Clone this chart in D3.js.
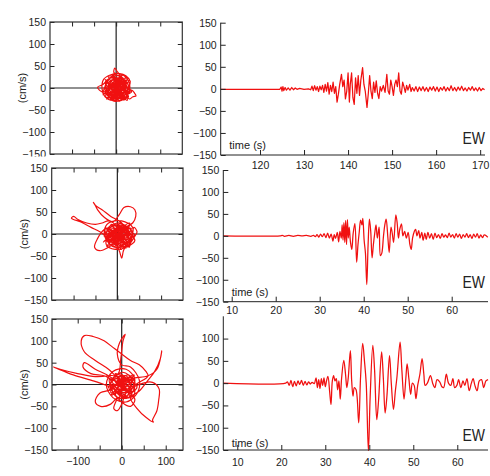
<!DOCTYPE html>
<html><head><meta charset="utf-8">
<script src="https://cdn.jsdelivr.net/npm/d3@7"></script>
<style>
body{margin:0;background:#fff}
text{font-family:"Liberation Sans",Arial,Helvetica,sans-serif;fill:#222}
</style>
</head><body><svg id="c" width="490" height="476"></svg>
<script>
// ---------------- DATA ----------------
// EW velocity traces: [time (s), velocity (cm/s)]
const trace1 = [[111,-1],[124,-1],[124.5,-1],[124.8,4],[125,-5],[125.2,5],[125.4,-4],[125.7,3],[126,-3],[126.4,2],[126.8,-3],[127.2,3],[127.6,-2],[128,2],[128.4,-1],[129,1],[130,-1],[131,0],[131.5,-2],[131.8,6],[132.1,-4],[132.4,7],[132.7,-3],[133,5],[133.3,-6],[133.6,6],[133.9,-2],[134.2,8],[134.5,-8],[134.8,10],[135.1,-5],[135.4,14],[135.7,-12],[136,8],[136.3,-6],[136.6,15],[136.9,-10],[137.2,5],[137.5,-30],[137.8,-12],[138.1,10],[138.5,33],[138.8,5],[139.1,20],[139.4,-23],[139.7,-5],[140,36],[140.3,-30],[140.5,10],[140.8,36],[141.1,-20],[141.4,-35],[141.7,25],[142,-10],[142.3,30],[142.6,-15],[142.9,20],[143.3,48],[143.6,10],[143.9,-5],[144.3,-42],[144.6,-10],[144.9,30],[145.2,-5],[145.5,-22],[145.8,15],[146.1,-8],[146.4,18],[146.7,-10],[147,-22],[147.3,5],[147.6,-5],[148,8],[148.4,-8],[148.8,33],[149.1,-5],[149.4,-12],[149.7,20],[150,5],[150.3,-15],[150.6,10],[150.9,20],[151.2,5],[151.5,36],[151.8,-5],[152.1,-12],[152.4,15],[152.7,5],[153,-8],[153.3,8],[153.6,-3],[154,10],[154.3,-6],[154.6,3],[155,-5],[155.4,5],[155.8,-6],[156.2,4],[156.6,-4],[157,5],[157.4,-5],[157.8,3],[158.2,-6],[158.6,4],[159,-3],[159.4,5],[159.8,-5],[160.2,4],[160.6,-6],[161,3],[161.4,-3],[161.8,5],[162.2,-5],[162.6,3],[163,-4],[163.4,7],[163.8,-4],[164.2,3],[164.6,-5],[165,4],[165.4,-3],[165.8,6],[166.2,-4],[166.6,2],[167,-5],[167.4,3],[167.8,-3],[168.2,5],[168.6,-4],[169,2],[169.4,-5],[169.8,3],[170.2,-4],[170.6,1],[171,-2]];

const trace2 = [[8,0],[21,0],[21.5,1],[22,-1],[23,1],[24,-1],[25,1],[26,0],[27,1],[28,-1],[28.6,1],[29,-2],[29.4,3],[29.8,-3],[30.2,4],[30.6,-2],[31,5],[31.4,-4],[31.8,6],[32.2,-5],[32.6,4],[33,-12],[33.3,3],[33.6,-6],[34,8],[34.3,-14],[34.6,10],[34.9,-5],[35.1,25],[35.3,-10],[35.5,30],[35.7,-15],[35.9,35],[36.1,-20],[36.3,37],[36.5,-5],[36.7,20],[37,-15],[37.3,-31],[37.6,5],[38,28],[38.4,-60],[38.7,-20],[39,10],[39.3,36],[39.6,25],[39.8,40],[40.1,-10],[40.4,-40],[40.7,-111],[41,-20],[41.3,38],[41.6,10],[41.9,-50],[42.2,-20],[42.5,5],[42.8,25],[43.1,-5],[43.5,20],[43.8,-45],[44.1,-40],[44.5,0],[44.8,25],[45.1,38],[45.5,-5],[45.8,-38],[46.2,20],[46.5,5],[46.8,-15],[47.3,48],[47.6,30],[47.9,-5],[48.2,15],[48.6,27],[48.9,0],[49.3,10],[49.7,-5],[50.1,8],[50.5,-20],[50.8,-31],[51.1,-5],[51.5,10],[51.8,15],[52.1,0],[52.5,12],[52.8,-5],[53.2,8],[53.5,-10],[53.9,6],[54.2,-8],[54.6,8],[55,-5],[55.4,5],[55.8,-8],[56.2,6],[56.6,-4],[57,3],[57.4,-6],[57.8,5],[58.2,-3],[58.6,2],[59,-4],[59.4,6],[59.8,-3],[60.2,3],[60.6,-5],[61,5],[61.4,-3],[61.8,4],[62.2,-6],[62.6,3],[63,-3],[63.4,5],[63.8,-4],[64.2,3],[64.6,-6],[65,4],[65.4,-3],[65.8,5],[66.2,-5],[66.6,2],[67,-4],[67.4,2],[68.2,-3]];

const trace3 = [[6.8,0],[21,0],[21.4,3],[21.8,-5],[22.2,6],[22.6,-8],[23,4],[23.4,-6],[23.8,5],[24.2,-3],[24.6,6],[25,-5],[25.4,4],[25.8,-4],[26.2,3],[26.6,-2],[27,2],[27.5,-1],[27.9,12],[28.2,-10],[28.5,8],[28.8,-12],[29.1,10],[29.4,-5],[29.7,12],[30,-8],[30.3,6],[30.6,15],[31,-20],[31.3,-48],[31.6,5],[31.9,17],[32.2,5],[32.5,10],[32.8,-15],[33.1,5],[33.4,-36],[33.7,10],[34.2,51],[34.6,20],[34.9,-10],[35.2,10],[35.7,73],[36,5],[36.3,-29],[36.6,-10],[37,-15],[37.6,-89],[38,10],[38.5,89],[38.9,50],[39.3,0],[39.8,-152],[40.2,-30],[40.8,85],[41.2,30],[41.7,-82],[42.1,-40],[42.8,70],[43.2,10],[43.6,-67],[44,-30],[44.6,62],[45,0],[45.5,-59],[45.9,-20],[46.3,15],[47,92],[47.4,30],[47.9,-36],[48.3,10],[48.6,43],[49,10],[49.4,-25],[49.8,0],[50.2,-5],[50.6,-35],[51,-5],[51.5,20],[52,55],[52.4,20],[52.7,-5],[53.2,0],[53.9,17],[54.4,0],[54.9,-10],[55.4,8],[56,3],[56.5,-8],[56.9,-10],[57.5,20],[58,0],[58.5,-5],[59,10],[59.4,-10],[59.9,-5],[60.3,8],[60.8,-10],[61.3,5],[61.7,-5],[62.2,10],[62.7,-17],[63.2,0],[63.6,10],[64,-5],[64.5,-17],[65,5],[65.5,8],[66,-10],[66.5,5],[67,8]];

// particle-motion (hodogram) paths: [horizontal (cm/s), vertical (cm/s)]
const hodo1 = [[0,0],[5,-3],[-3,6],[8,10],[-10,5],[-5,-12],[12,-8],[15,12],[-8,18],[-18,2],[-12,-18],[6,-22],[20,-5],[18,20],[0,28],[-20,15],[-25,-5],[-10,-25],[12,-28],[28,-12],[30,10],[15,30],[-5,35],[-3,45],[2,38],[10,25],[-15,22],[-30,8],[-42,2],[-38,-5],[-22,-15],[-5,-30],[20,-22],[35,-5],[42,-12],[45,-18],[38,-20],[30,-25],[25,-10],[32,15],[22,28],[8,33],[-12,30],[-28,20],[-32,-2],[-25,-20],[-8,-28],[10,-20],[22,0],[15,18],[-2,22],[-15,10],[-18,-8],[-5,-18],[10,-12],[14,5],[5,15],[-8,12],[-12,0],[-5,-10],[6,-8],[8,4],[0,8],[-4,2],[0,-4],[3,1],[-12,15],[18,-10],[-20,-12],[14,22],[25,-18],[-15,-20],[-22,18],[10,-25],[28,5],[-5,30],[-28,-8],[20,15],[-10,-15],[22,-25],[8,28],[-25,12],[15,-15],[-18,25],[30,-5],[-8,-28],[12,18],[-30,-15],[25,25],[0,-20],[-20,5],[18,-28],[-5,20],[28,-20],[-15,-5],[10,12],[-22,-25],[20,8],[-12,28],[35,-8],[5,-15],[-25,20],[15,-22],[-8,10],[22,18],[-18,-18],[8,-30],[-28,0],[25,-10],[-5,25],[12,-5],[-15,15],[30,20],[-10,-22],[18,0],[-20,-10],[5,22],[25,-28],[-12,8],[10,-10],[-6,18],[20,-15],[-24,-20],[15,30],[-2,12],[8,-18],[-14,4],[12,10],[-6,-8],[4,6],[0,0]];

const hodo2 = [[0,0],[10,-8],[-8,10],[15,12],[-12,-10],[20,-15],[25,10],[-15,20],[-25,-5],[5,-25],[30,-10],[35,15],[10,30],[-20,25],[-30,5],[-20,-20],[0,-30],[25,-25],[40,-5],[45,5],[38,15],[30,-20],[15,-35],[10,-55],[5,-40],[-5,-20],[-20,-10],[-40,5],[-60,15],[-85,28],[-100,33],[-105,36],[-100,40],[-90,33],[-70,25],[-50,22],[-35,25],[-20,30],[-5,20],[-30,10],[-45,-10],[-52,-30],[-40,-38],[-20,-30],[0,-15],[20,5],[10,25],[-15,40],[-35,55],[-50,65],[-55,72],[-52,68],[-45,55],[-30,38],[-10,28],[5,45],[15,60],[30,62],[40,55],[42,40],[35,25],[20,15],[30,0],[40,-15],[20,-30],[-5,-35],[-25,-25],[-20,0],[0,10],[15,-5],[5,-15],[-10,-5],[-5,8],[8,5],[3,-3],[-18,12],[22,-18],[-25,-15],[15,20],[30,-22],[-12,-28],[-28,15],[12,-30],[35,2],[0,25],[-30,-5],[25,15],[-8,-18],[28,-28],[10,22],[-22,8],[18,-12],[-15,22],[38,-8],[-5,-30],[15,12],[-32,-18],[28,25],[2,-22],[-22,2],[20,-32],[-2,18],[32,-18],[-15,-8],[12,10],[-25,-28],[22,5],[-10,20],[40,-2],[8,-12],[-28,15],[18,-25],[-6,5],[25,18],[-20,-20],[10,-35],[-30,-2],[30,-8],[0,22],[14,-2],[-18,10],[32,12],[-8,-25],[20,-2],[-22,-12],[6,18],[28,-30],[-10,5],[12,-8],[0,0]];

const hodo3 = [[0,0],[10,-10],[-10,8],[15,15],[-15,-15],[20,-5],[-5,25],[-25,5],[5,-30],[30,10],[10,35],[-20,30],[-35,0],[-20,-30],[10,-40],[35,-20],[40,10],[20,40],[0,45],[-10,70],[-5,95],[5,112],[8,115],[3,100],[-2,60],[-8,25],[-30,20],[-60,18],[-100,25],[-140,35],[-155,40],[-150,38],[-110,22],[-70,10],[-40,0],[-20,-10],[-50,-20],[-60,-40],[-48,-50],[-25,-45],[-10,-30],[-18,-55],[-10,-60],[0,-45],[10,-20],[40,0],[70,5],[85,-10],[84,-36],[80,-60],[70,-82],[72,-86],[55,-75],[35,-55],[20,-30],[40,-15],[60,10],[75,30],[88,60],[91,77],[90,70],[80,35],[60,20],[30,15],[0,10],[-30,35],[-60,55],[-85,75],[-92,100],[-85,112],[-65,110],[-40,100],[-20,85],[0,70],[20,55],[40,45],[55,30],[60,20],[40,5],[20,-5],[0,5],[-20,10],[-40,20],[-70,25],[-88,40],[-85,50],[-60,35],[-30,20],[-10,5],[5,-10],[20,-20],[30,-35],[20,-50],[0,-40],[-15,-20],[-5,0],[5,10],[-5,-5],[-18,15],[22,-12],[-25,-18],[15,22],[28,-25],[-12,-28],[-28,12],[12,-32],[30,5],[0,28],[-30,-8],[25,18],[-8,-20],[20,-28],[10,20],[-22,5],[18,-10],[-15,25],[35,-5],[-5,-32],[12,15],[-32,-15],[28,22],[2,-25],[-22,0],[18,-30],[-2,20],[30,-15],[-15,-5],[10,12],[-25,-25],[22,8],[-10,18],[5,-12],[-20,12],[15,-20],[-6,8],[8,-4],[0,0]];

// ticks and labels
const velTicks = [-150,-100,-50,0,50,100,150];
const velTicksRow3 = [-150,-100,-50,0,50,100];
const hodoXTicks = [-100,-50,0,50,100];
const hodoXLabels = [-100,0,100];
const timeTicks1 = [120,130,140,150,160,170];
const timeTicks23 = [10,20,30,40,50,60];
const unitLabel = "(cm/s)";
const timeLabel = "time (s)";
const compLabel = "EW";

// ---------------- LAYOUT ----------------
const rows = [
  {hodo:hodo1, trace:trace1, L:{x0:50,x1:182.3,y0:22,y1:154,xd:[-150,150],xlab:false,clip:156.5},
   R:{x0:220.7,x1:485,y0:22.7,y1:155,td:[111.07,171.1],ticks:timeTicks1,yt:velTicks,pad:6.3,tx:229.3,ty:149.3,ey:144,curve:d3.curveLinear}},
  {hodo:hodo2, trace:trace2, L:{x0:51.7,x1:183,y0:168,y1:300,xd:[-150,150],xlab:false,clip:null},
   R:{x0:223.3,x1:488,y0:170,y1:301.7,td:[8.09,68.25],ticks:timeTicks23,yt:velTicks,pad:5.0,tx:231.7,ty:295.7,ey:288.3,curve:d3.curveCatmullRom.alpha(0.5)}},
  {hodo:hodo3, trace:trace3, L:{x0:52,x1:183,y0:319,y1:450,xd:[-158.4,139.3],xlab:true,clip:null},
   R:{x0:223.3,x1:488,y0:316.3,y1:450,td:[6.82,66.98],ticks:timeTicks23,yt:velTicksRow3,pad:8.3,tx:231.7,ty:446.7,ey:441,curve:d3.curveCatmullRom.alpha(0.5)}}
];

const svg = d3.select("#c");
const defs = svg.append("defs");
const FS = 10.5;
const axisCol = "#222";
const RED = "#f01010";

function styleAxis(g){
  g.selectAll("path,line").attr("stroke",axisCol).attr("stroke-width",1);
  g.selectAll("text").attr("font-size",FS).attr("fill",axisCol)
   .attr("font-family","'Liberation Sans',Arial,Helvetica,sans-serif");
}

rows.forEach((r,i)=>{
  // ---------- left: hodogram ----------
  const L = r.L;
  const gL = svg.append("g");
  if(L.clip){
    defs.append("clipPath").attr("id","rowclip"+i).append("rect")
      .attr("x",0).attr("y",0).attr("width",200).attr("height",L.clip);
    gL.attr("clip-path",`url(#rowclip${i})`);
  }
  const hx = d3.scaleLinear().domain(L.xd).range([L.x0,L.x1]);
  const hy = d3.scaleLinear().domain([-150,150]).range([L.y1,L.y0]);

  defs.append("clipPath").attr("id","hclip"+i).append("rect")
    .attr("x",L.x0).attr("y",L.y0).attr("width",L.x1-L.x0).attr("height",L.y1-L.y0);

  // cross hair through zero
  gL.append("line").attr("x1",L.x0).attr("x2",L.x1).attr("y1",hy(0)).attr("y2",hy(0))
    .attr("stroke","#222").attr("stroke-width",1.2);
  gL.append("line").attr("x1",hx(0)).attr("x2",hx(0)).attr("y1",L.y0).attr("y2",L.y1)
    .attr("stroke","#222").attr("stroke-width",1.2);

  // trace
  gL.append("path").datum(r.hodo)
    .attr("clip-path",`url(#hclip${i})`)
    .attr("fill","none").attr("stroke",RED).attr("stroke-width",1.2)
    .attr("stroke-linejoin","round")
    .attr("d",d3.line().x(d=>hx(d[0])).y(d=>hy(d[1])).curve(d3.curveCatmullRom.alpha(0.5)));

  // axes (inward ticks on all four sides)
  const gy = gL.append("g").attr("transform",`translate(${L.x0},0)`)
    .call(d3.axisLeft(hy).tickValues(velTicks).tickSizeInner(-4.5).tickSizeOuter(0).tickPadding(4).tickFormat(d3.format("d")));
  styleAxis(gy);
  const gyr = gL.append("g").attr("transform",`translate(${L.x1},0)`)
    .call(d3.axisRight(hy).tickValues(velTicks).tickSizeInner(-4.5).tickSizeOuter(0).tickFormat(""));
  styleAxis(gyr);
  const gxt = gL.append("g").attr("transform",`translate(0,${L.y0})`)
    .call(d3.axisTop(hx).tickValues(hodoXTicks).tickSizeInner(-4.5).tickSizeOuter(0).tickFormat(""));
  styleAxis(gxt);
  const gxb = gL.append("g").attr("transform",`translate(0,${L.y1})`)
    .call(d3.axisBottom(hx).tickValues(hodoXTicks).tickSizeInner(-4.5).tickSizeOuter(0).tickPadding(8)
      .tickFormat(d=> (L.xlab && hodoXLabels.includes(d)) ? d3.format("d")(d) : ""));
  styleAxis(gxb);
  gL.selectAll(".domain").remove();
  // frame
  gL.append("rect").attr("x",L.x0).attr("y",L.y0).attr("width",L.x1-L.x0).attr("height",L.y1-L.y0)
    .attr("fill","none").attr("stroke","#333").attr("stroke-width",1.2);

  // unit label
  gL.append("text").attr("transform",`translate(${L.x0-28},${hy(0)}) rotate(-90)`)
    .attr("text-anchor","middle").attr("dominant-baseline","central")
    .attr("font-size",11).text(unitLabel);

  // ---------- right: time series ----------
  const R = r.R;
  const gR = svg.append("g");
  const tx = d3.scaleLinear().domain(R.td).range([R.x0,R.x1]);
  const ty = d3.scaleLinear().domain([-150,150]).range([R.y1,R.y0]);

  defs.append("clipPath").attr("id","tclip"+i).append("rect")
    .attr("x",R.x0).attr("y",R.y0).attr("width",R.x1-R.x0+3).attr("height",R.y1-R.y0+1);

  gR.append("path").datum(r.trace)
    .attr("clip-path",`url(#tclip${i})`)
    .attr("fill","none").attr("stroke",RED).attr("stroke-width",1.25)
    .attr("stroke-linejoin","round")
    .attr("d",d3.line().x(d=>tx(d[0])).y(d=>ty(d[1])).curve(R.curve));

  const ay = gR.append("g").attr("transform",`translate(${R.x0},0)`)
    .call(d3.axisLeft(ty).tickValues(R.yt).tickSizeInner(-5).tickSizeOuter(0).tickPadding(4).tickFormat(d3.format("d")));
  styleAxis(ay);
  ay.select(".domain").attr("d",`M0,${R.y0}V${R.y1}`);
  const ax = gR.append("g").attr("transform",`translate(0,${R.y1})`)
    .call(d3.axisBottom(tx).tickValues(R.ticks).tickSizeInner(-5).tickSizeOuter(0).tickPadding(R.pad).tickFormat(d3.format("d")));
  styleAxis(ax);
  ax.select(".domain").attr("d",`M${R.x0},0H${R.x1}`);

  gR.append("text").attr("x",R.tx).attr("y",R.ty).attr("font-size",11).text(timeLabel);
  gR.append("text").attr("x",485).attr("y",R.ey).attr("text-anchor","end")
    .attr("font-size",17).attr("textLength",22.5).attr("lengthAdjust","spacingAndGlyphs")
    .text(compLabel);
});
</script>
</body></html>
